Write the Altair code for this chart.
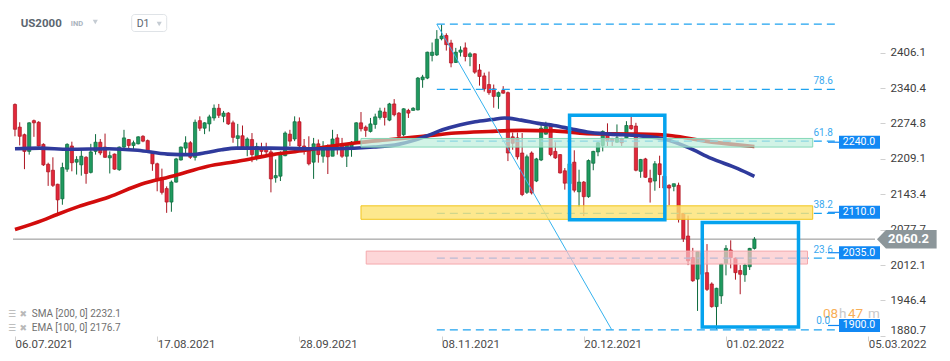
import altair as alt
import pandas as pd

# ---------------- data ----------------
opens = [
    2310, 2268, 2254, 2223, 2280, 2277, 2236, 2199, 2188, 2162,
    2135, 2190, 2233, 2203, 2198, 2212, 2184, 2223, 2240, 2231,
    2211, 2218, 2189, 2231, 2245, 2234, 2237, 2251, 2243, 2219,
    2200, 2174, 2154, 2129, 2166, 2207, 2229, 2239, 2212, 2280,
    2266, 2274, 2285, 2303, 2288, 2294, 2276, 2247, 2252, 2232,
    2245, 2214, 2229, 2227, 2222, 2174, 2177, 2215, 2255, 2246,
    2278, 2233, 2230, 2203, 2237, 2214, 2226, 2214, 2248, 2234,
    2214, 2229, 2239, 2276, 2268, 2260, 2273, 2286, 2296, 2281,
    2311, 2294, 2254, 2299, 2299, 2300, 2356, 2359, 2401, 2402,
    2432, 2438, 2424, 2388, 2407, 2415, 2399, 2404, 2374, 2363,
    2347, 2339, 2325, 2336, 2332, 2250, 2248, 2220, 2147, 2220,
    2168, 2207, 2255, 2270, 2223, 2217, 2187, 2163, 2203, 2148,
    2166, 2139, 2201, 2222, 2234, 2257, 2247, 2240, 2247, 2248,
    2271, 2270, 2186, 2209, 2173, 2168, 2200, 2177, 2160, 2158,
    2160, 2108, 2066, 2026, 1986, 2035, 1998, 1977, 1935, 1955,
    2015, 2040, 2025, 2002, 1994, 2009, 2043,
]
highs = [
    2312, 2277, 2256, 2277, 2282, 2279, 2238, 2202, 2212, 2163,
    2202, 2238, 2241, 2214, 2226, 2214, 2237, 2255, 2246, 2256,
    2223, 2219, 2232, 2263, 2246, 2243, 2251, 2253, 2245, 2220,
    2202, 2191, 2158, 2169, 2211, 2232, 2251, 2242, 2282, 2288,
    2277, 2291, 2310, 2311, 2298, 2296, 2280, 2274, 2271, 2249,
    2257, 2239, 2239, 2239, 2226, 2208, 2223, 2260, 2263, 2288,
    2286, 2246, 2251, 2248, 2245, 2242, 2236, 2263, 2255, 2248,
    2237, 2242, 2277, 2296, 2271, 2285, 2293, 2304, 2304, 2313,
    2320, 2296, 2303, 2302, 2305, 2361, 2365, 2408, 2425, 2448,
    2458, 2442, 2430, 2415, 2418, 2425, 2407, 2405, 2385, 2369,
    2371, 2347, 2334, 2344, 2334, 2258, 2258, 2257, 2217, 2223,
    2211, 2273, 2278, 2271, 2240, 2218, 2192, 2205, 2225, 2189,
    2168, 2208, 2224, 2240, 2262, 2275, 2248, 2273, 2248, 2279,
    2287, 2276, 2209, 2211, 2189, 2205, 2215, 2180, 2162, 2163,
    2165, 2108, 2104, 2044, 2038, 2045, 2051, 1980, 1970, 2015,
    2049, 2058, 2026, 2012, 2015, 2044, 2064,
]
lows = [
    2251, 2234, 2190, 2217, 2250, 2232, 2196, 2159, 2157, 2103,
    2124, 2185, 2186, 2180, 2178, 2163, 2182, 2217, 2216, 2211,
    2182, 2189, 2187, 2226, 2224, 2224, 2236, 2240, 2220, 2187,
    2149, 2143, 2109, 2111, 2165, 2206, 2218, 2209, 2206, 2261,
    2255, 2260, 2280, 2285, 2277, 2272, 2239, 2229, 2228, 2214,
    2203, 2206, 2211, 2217, 2147, 2165, 2168, 2214, 2233, 2242,
    2229, 2217, 2197, 2172, 2202, 2202, 2181, 2214, 2217, 2211,
    2194, 2213, 2238, 2260, 2250, 2258, 2265, 2282, 2271, 2279,
    2288, 2250, 2251, 2285, 2299, 2299, 2341, 2357, 2390, 2400,
    2429, 2410, 2379, 2387, 2399, 2390, 2381, 2367, 2345, 2334,
    2328, 2304, 2302, 2330, 2205, 2226, 2208, 2140, 2144, 2143,
    2166, 2205, 2254, 2214, 2209, 2182, 2152, 2158, 2147, 2120,
    2103, 2137, 2188, 2214, 2223, 2233, 2233, 2239, 2233, 2246,
    2263, 2186, 2174, 2174, 2128, 2150, 2155, 2150, 2123, 2149,
    2091, 2055, 2012, 1981, 1927, 1985, 1964, 1933, 1893, 1940,
    1993, 2006, 1985, 1958, 1981, 2003, 2041,
]
closes = [
    2264, 2251, 2223, 2276, 2276, 2233, 2198, 2185, 2160, 2133,
    2193, 2236, 2202, 2208, 2214, 2182, 2222, 2240, 2220, 2212,
    2215, 2190, 2231, 2248, 2234, 2239, 2250, 2242, 2223, 2200,
    2171, 2147, 2129, 2166, 2209, 2231, 2239, 2212, 2277, 2266,
    2276, 2287, 2303, 2290, 2294, 2274, 2249, 2252, 2229, 2246,
    2217, 2232, 2223, 2222, 2172, 2178, 2220, 2257, 2242, 2278,
    2233, 2230, 2200, 2237, 2217, 2226, 2213, 2246, 2233, 2214,
    2236, 2240, 2276, 2265, 2262, 2274, 2287, 2298, 2286, 2311,
    2291, 2251, 2302, 2294, 2303, 2359, 2361, 2407, 2407, 2431,
    2437, 2421, 2387, 2407, 2411, 2399, 2404, 2370, 2362, 2339,
    2332, 2325, 2332, 2331, 2220, 2238, 2213, 2143, 2213, 2146,
    2209, 2266, 2269, 2217, 2211, 2183, 2164, 2200, 2151, 2166,
    2139, 2206, 2223, 2239, 2260, 2242, 2242, 2248, 2239, 2271,
    2265, 2188, 2208, 2175, 2166, 2200, 2180, 2155, 2155, 2163,
    2097, 2061, 2020, 1983, 2037, 1995, 1967, 1935, 1969, 2014,
    2043, 2026, 1998, 1995, 2012, 2043, 2060,
]

date_ticks = [0, 30, 60, 90, 120, 150, 180]
date_labels = ["06.07.2021", "17.08.2021", "28.09.2021", "08.11.2021",
               "20.12.2021", "01.02.2022", "05.03.2022"]
price_ticks = [2406.1, 2340.4, 2274.8, 2209.1, 2143.4, 2077.7, 2012.1, 1946.4, 1880.7]

sma_idx = [0, 5.8, 8.9, 13.5, 19.7, 26.6, 33.6, 40.5, 47.3, 54.4, 61.2, 65.4, 72.2,
           79.3, 86.1, 92.9, 100, 106.8, 113.7, 120.7, 131.7, 138.6, 145.6, 152.5, 156]
sma_val = [2078, 2095, 2106, 2121, 2138, 2162, 2178, 2195, 2205, 2217, 2225, 2231, 2239,
           2245, 2251, 2257, 2260, 2262, 2261, 2256, 2255, 2252, 2242, 2235, 2232.1]
ema_idx = [0, 5.2, 11.4, 19.7, 25.9, 32.2, 37.3, 40.5, 43.6, 46.7, 53.9, 61.2, 67.4,
           75.7, 80.9, 84.0, 86.7, 90.2, 93.8, 97.1, 100.6, 103.3, 106.8, 110.4, 113.7,
           117.2, 120.7, 125.5, 131.7, 137.3, 142.1, 146.9, 152.5, 156]
ema_val = [2228, 2229, 2227, 2228, 2225, 2218, 2217, 2221, 2226, 2229, 2229, 2228, 2228,
           2231, 2236, 2243, 2251, 2263, 2272, 2278, 2282, 2285, 2281, 2275, 2271,
           2265, 2259, 2255, 2252, 2245, 2230, 2210, 2191, 2176.7]

fib_levels = ["100.0", "78.6", "61.8", "38.2", "23.6", "0.0"]
fib_prices = [2459, 2338, 2242, 2108, 2025, 1892]
fib_from = 89.0
fib_to = 173.6
fib_label_at = 170.5
swing_idx = [89.0, 125.9]
swing_val = [2459, 1892]

zone_start = [73.0, 73.0, 74.1]
zone_end = [168.3, 168.3, 167.2]
zone_top = [2247, 2122, 2038]
zone_bottom = [2231, 2097, 2014]

box_start = [117.0, 145.0]
box_end = [137.1, 165.3]
box_top = [2290, 2091]
box_bottom = [2096, 1897]

level_prices = [2240.0, 2110.0, 2035.0, 1900.0]
last_price = 2060.2
sma_last = 2232.1
ema_last = 2176.7

# ---------------- frames ----------------
n = min(len(opens), len(highs), len(lows), len(closes))
candles = pd.DataFrame({"i": list(range(n)), "o": opens[:n], "h": highs[:n],
                        "l": lows[:n], "c": closes[:n]})
sma = pd.DataFrame({"idx": sma_idx, "v": sma_val})
ema = pd.DataFrame({"idx": ema_idx, "v": ema_val})
fib = pd.DataFrame({"p": fib_prices, "lab": fib_levels})
fib["x1"] = fib_from
fib["x2"] = fib_to
fib["xl"] = fib_label_at
fib_lab = fib[fib["lab"] != "100.0"]
swing = pd.DataFrame({"x1": [swing_idx[0]], "x2": [swing_idx[1]],
                      "y1": [swing_val[0]], "y2": [swing_val[1]]})
zones = pd.DataFrame({"x1": zone_start, "x2": zone_end, "t": zone_top, "b": zone_bottom})
boxes = pd.DataFrame({"x1": box_start, "x2": box_end, "t": box_top, "b": box_bottom})
levels = pd.DataFrame({"p": level_prices, "txt": [f"{v:.1f}" for v in level_prices]})
last = pd.DataFrame({"p": [last_price], "txt": [f"{last_price:.1f}"], "x0": [-0.417], "x1": [181.44]})
one = pd.DataFrame({"k": [0]})

XS = alt.Scale(domain=[-0.417, 181.44], nice=False, zero=False)
YS = alt.Scale(domain=[1880.5, 2489.0], nice=False, zero=False)

labels_js = "[" + ",".join(f"'{d}'" for d in date_labels) + "]"
ticks_js = "[" + ",".join(str(t) for t in date_ticks) + "]"

x_axis = alt.Axis(values=date_ticks, labelExpr=f"{labels_js}[indexof({ticks_js}, datum.value)]",
                  orient="bottom", domain=False, grid=False, tickSize=5, tickColor="#d0d0d0",
                  labelAlign="left", labelBaseline="top", labelPadding=-3, labelFontSize=11.5,
                  labelColor="#4a4a4a", labelFont="Roboto", labelOverlap=False,
                  labelBound=False, labelFlush=False, title=None)
y_axis = alt.Axis(values=price_ticks, orient="right", format=".1f", domain=False, grid=False,
                  tickSize=5, tickColor="#d0d0d0", labelPadding=5, labelFontSize=11.5,
                  labelColor="#3d3d3d", labelFont="Roboto", labelFlush=4, labelOverlap=False,
                  labelAlign="left", title=None)


def X(field):
    return alt.X(field, scale=XS, axis=x_axis)


def Y(field):
    return alt.Y(field, scale=YS, axis=y_axis)


GREEN, GREEN_D = "#1f9a5f", "#0b6a3c"
RED, RED_D = "#e2273a", "#ac1420"
up = "datum.c >= datum.o"

price_line = alt.Chart(last).mark_rule(color="#8e8e8e", strokeWidth=1).encode(
    x=X("x0:Q"), x2="x1:Q", y=Y("p:Q"))

wicks = alt.Chart(candles).mark_rule(strokeWidth=1).encode(
    x=X("i:Q"), y=Y("l:Q"), y2="h:Q",
    color=alt.condition(up, alt.value(GREEN_D), alt.value(RED_D)))

bodies = alt.Chart(candles).mark_bar(size=3.2, strokeWidth=0.7).encode(
    x=X("i:Q"), y=Y("o:Q"), y2="c:Q",
    fill=alt.condition(up, alt.value(GREEN), alt.value(RED)),
    stroke=alt.condition(up, alt.value(GREEN_D), alt.value(RED_D)))

sma_line = alt.Chart(sma).mark_line(color="#d20c0c", strokeWidth=3.6, interpolate="monotone").encode(
    x=X("idx:Q"), y=Y("v:Q"))
ema_line = alt.Chart(ema).mark_line(color="#2f3a9c", strokeWidth=3.6, interpolate="monotone").encode(
    x=X("idx:Q"), y=Y("v:Q"))

FIB = "#1fa3ef"
fib_lines = alt.Chart(fib).mark_rule(color=FIB, strokeWidth=1.2, strokeDash=[8, 5]).encode(
    x=X("x1:Q"), x2="x2:Q", y=Y("p:Q"))
swing_line = alt.Chart(swing).mark_rule(color="#35b2ee", strokeWidth=1).encode(
    x=X("x1:Q"), x2="x2:Q", y=Y("y1:Q"), y2="y2:Q")

zone_styles = [("#bdeedb", "#84d8b7", 0.7), ("#fde272", "#f2c61f", 0.8), ("#fcc4c7", "#f4a9ad", 0.7)]
zone_layers = []
for k, (fc, sc, op) in enumerate(zone_styles):
    zone_layers.append(
        alt.Chart(zones.iloc[[k]]).mark_rect(fill=fc, fillOpacity=op, stroke=sc, strokeWidth=1).encode(
            x=X("x1:Q"), x2="x2:Q", y=Y("t:Q"), y2="b:Q"))

box_layer = alt.Chart(boxes).mark_rect(fillOpacity=0, stroke="#05a3ee", strokeWidth=3.5).encode(
    x=X("x1:Q"), x2="x2:Q", y=Y("t:Q"), y2="b:Q")

fib_text = alt.Chart(fib_lab).mark_text(color="#3aa9ef", fontSize=10, font="Roboto",
                                        align="center", baseline="middle", dy=-8.5).encode(
    x=X("xl:Q"), y=Y("p:Q"), text="lab:N")


def label(text, x, y, size, color, weight="normal", align="left", font="Roboto", opacity=1.0):
    return alt.Chart(one).mark_text(text=text, align=align, baseline="middle", fontSize=size,
                                    color=color, fontWeight=weight, font=font,
                                    opacity=opacity).encode(x=alt.value(x), y=alt.value(y))


timer = [
    label("08", 815, 305.5, 13.5, "#f7a23b", opacity=0.85),
    label("h", 831, 305.5, 13.5, "#c8c8c8"),
    label("47", 840, 305.5, 13.5, "#f7a23b", opacity=0.85),
    label("m", 860, 305.5, 13.5, "#c8c8c8"),
]

BLUE_BOX = "#1188f4"
rect_path = "M-1,-0.317L1,-0.317L1,0.317L-1,0.317Z"
alert_lines = alt.Chart(levels).mark_rule(color=BLUE_BOX, strokeWidth=1.2).encode(
    x=alt.value(820), x2=alt.value(831), y=Y("p:Q"))
level_boxes = alt.Chart(levels).mark_point(shape=rect_path, size=1681, filled=True,
                                           color=BLUE_BOX, opacity=1).encode(
    x=alt.value(851.5), y=Y("p:Q"))
level_text = alt.Chart(levels).mark_text(color="white", fontSize=10.5, font="Roboto",
                                         align="center", baseline="middle").encode(
    x=alt.value(851), y=Y("p:Q"), text="txt:N")

arrow_path = "M-1,0L-0.7,-0.31L1,-0.31L1,0.31L-0.7,0.31Z"
last_box = alt.Chart(last).mark_point(shape=arrow_path, size=3564, filled=True,
                                      color="#8c969a", opacity=1).encode(
    x=alt.value(898.8), y=Y("p:Q"))
last_text = alt.Chart(last).mark_text(color="white", fontSize=13, fontWeight="bold", font="Roboto",
                                      align="center", baseline="middle").encode(
    x=alt.value(900.5), y=Y("p:Q"), text="txt:N")

d1_box = alt.Chart(one).mark_rect(fill="white", stroke="#dfe3e7", strokeWidth=1, cornerRadius=3).encode(
    x=alt.value(123.7), x2=alt.value(158.7), y=alt.value(6.5), y2=alt.value(23.5))
header = [
    label("US2000", 12.7, 15.5, 11.5, "#5b6670", weight="bold"),
    label("IND", 62.7, 16.4, 7.5, "#aab4be", weight="bold"),
    alt.Chart(one).mark_point(shape="triangle-down", size=26, filled=True, color="#c5ccd3",
                              opacity=1).encode(x=alt.value(87.3), y=alt.value(14)),
    d1_box,
    label("D1", 128.7, 15.7, 10.5, "#5b6670"),
    alt.Chart(one).mark_point(shape="triangle-down", size=26, filled=True, color="#c5ccd3",
                              opacity=1).encode(x=alt.value(151.2), y=alt.value(16)),
]

legend = [
    label("☰", 0, 305.5, 9, "#b3b3b3", font="DejaVu Sans"),
    label("✖", 15.3, 306, 9, "#b9b9b9", align="center", font="DejaVu Sans"),
    label(f"SMA [200,  0] {sma_last}", 23.7, 306.3, 10, "#707070"),
    label("☰", 0, 319.5, 9, "#b3b3b3", font="DejaVu Sans"),
    label("✖", 15.3, 320, 9, "#b9b9b9", align="center", font="DejaVu Sans"),
    label(f"EMA [100,  0] {ema_last}", 23.7, 320.3, 10, "#707070"),
]

layers = ([price_line, wicks, bodies, sma_line, ema_line, fib_lines, swing_line]
          + zone_layers + [box_layer] + timer + [fib_text, alert_lines, level_boxes, level_text,
                                                   last_box, last_text] + header + legend)

chart = alt.layer(*layers).properties(
    width=872, height=328,
    autosize=alt.AutoSizeParams(type="none"),
    padding={"left": 0, "top": 0, "right": 58, "bottom": 16},
).configure(font="Roboto").configure_view(strokeOpacity=0, strokeWidth=0)

chart.save("out.html", embed_options={"renderer": "svg", "actions": False})
